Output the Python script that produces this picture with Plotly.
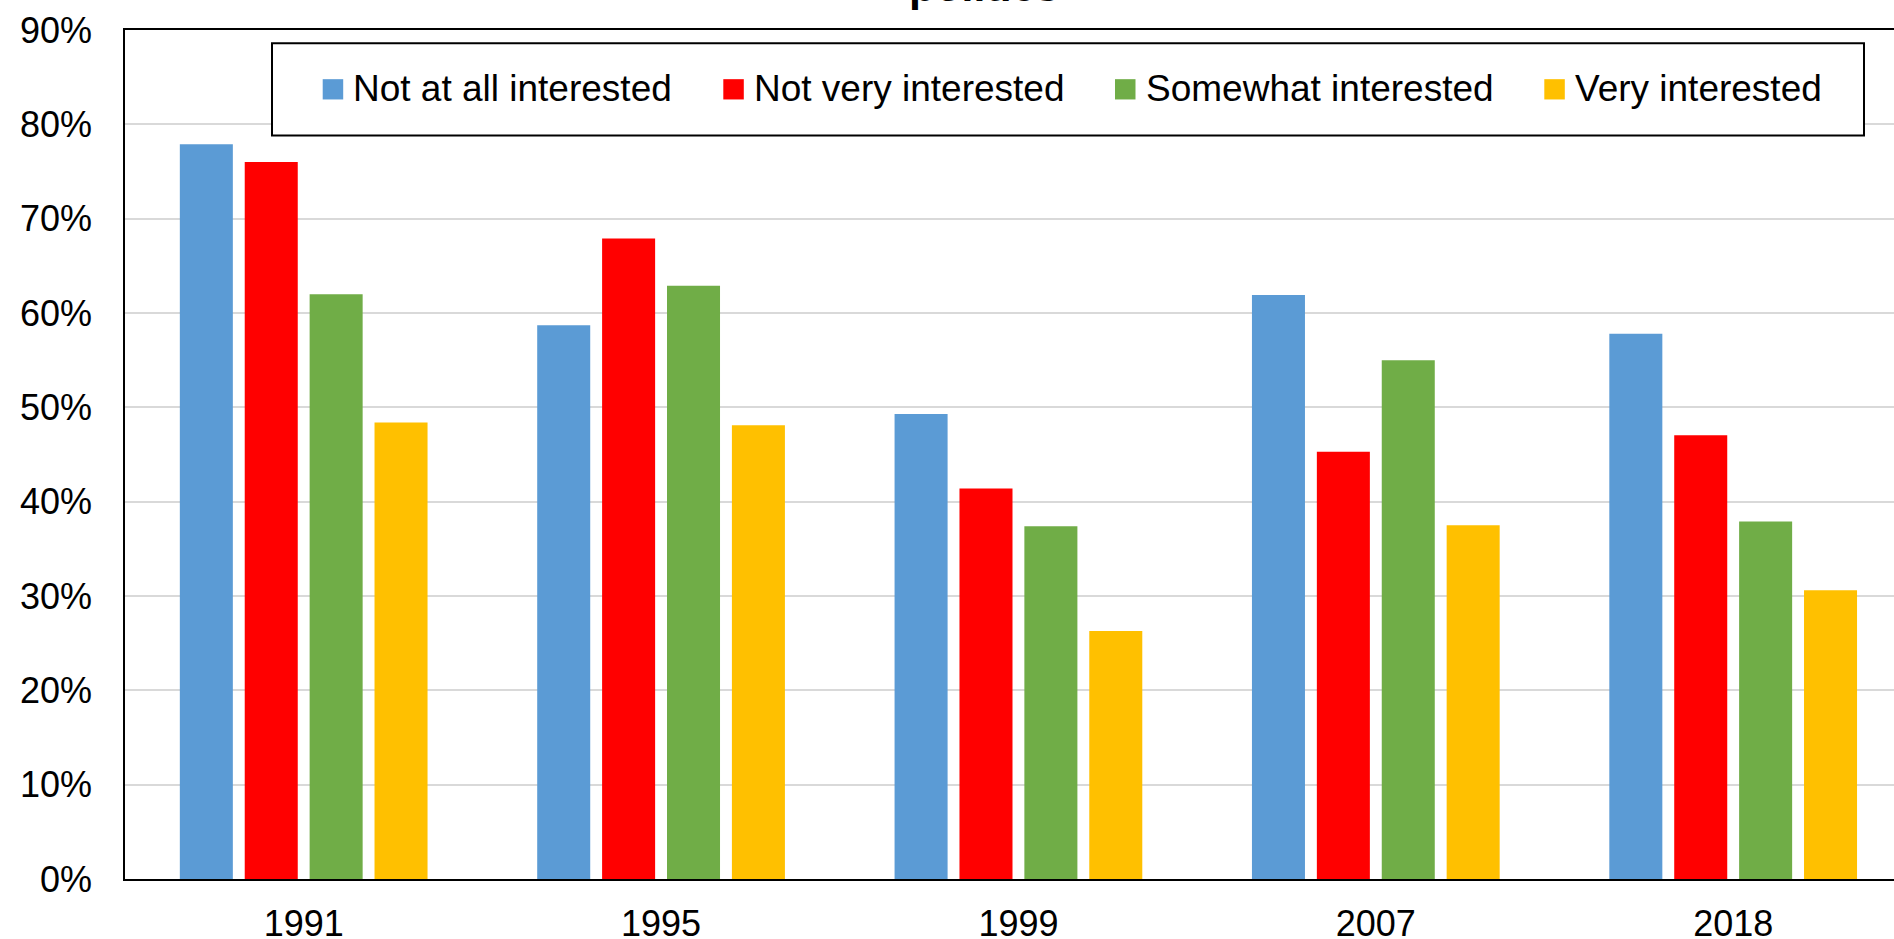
import plotly.graph_objects as go

years = ["1991", "1995", "1999", "2007", "2018"]
series_names = ["Not at all interested", "Not very interested", "Somewhat interested", "Very interested"]
not_at_all = [77.9, 58.7, 49.3, 61.9, 57.8]
not_very = [76.0, 67.9, 41.4, 45.3, 47.05]
somewhat = [62.0, 62.9, 37.4, 55.0, 37.9]
very = [48.4, 48.1, 26.3, 37.5, 30.6]
y_ticks = [0, 10, 20, 30, 40, 50, 60, 70, 80, 90]
y_tick_labels = ["0%", "10%", "20%", "30%", "40%", "50%", "60%", "70%", "80%", "90%"]
title_text = "politics"

colors = ["#5B9BD5", "#FF0000", "#70AD47", "#FFC000"]
values = [not_at_all, not_very, somewhat, very]

W, H = 1894, 939
L, R, T, B = 125, 1894, 29.5, 879
FONT = "Liberation Sans, Arial, sans-serif"


def px_x(p):
    return (p - L) / (R - L)


def px_y(p):
    return (B - p) / (B - T)


fig = go.Figure()
for name, vals, col in zip(series_names, values, colors):
    fig.add_trace(go.Bar(x=years, y=vals, name=name, marker=dict(color=col, line=dict(width=0)),
                         showlegend=False))

shapes = []
annotations = []
# legend box
shapes.append(dict(type="rect", xref="paper", yref="paper", x0=px_x(272), x1=px_x(1864),
                   y0=px_y(135), y1=px_y(42.7), line=dict(color="black", width=2),
                   fillcolor="white", layer="above"))
sq_left = [322.7, 723.3, 1115, 1544.3]
for name, col, sx in zip(series_names, colors, sq_left):
    shapes.append(dict(type="rect", xref="paper", yref="paper", x0=px_x(sx), x1=px_x(sx + 20.5),
                       y0=px_y(99), y1=px_y(78.7), line=dict(width=0), fillcolor=col, layer="above"))
    annotations.append(dict(xref="paper", yref="paper", x=px_x(sx + 28.5), y=px_y(88.5),
                            xanchor="left", yanchor="middle", text=name, showarrow=False,
                            font=dict(family=FONT, size=37, color="black")))

annotations.append(dict(xref="paper", yref="paper", x=px_x(984), y=px_y(11),
                        xanchor="center", yanchor="bottom", text="<b>" + title_text + "</b>",
                        showarrow=False, font=dict(family=FONT, size=43, color="black")))

fig.update_layout(
    width=W, height=H,
    margin=dict(l=L, r=W - R, t=T, b=H - B, pad=0, autoexpand=False),
    paper_bgcolor="white", plot_bgcolor="white",
    barmode="group", bargap=0.2736, bargroupgap=0.183,
    font=dict(family=FONT, size=36, color="black"),
    shapes=shapes, annotations=annotations,
    xaxis=dict(range=[-0.5, 4.45], showline=True, linecolor="black", linewidth=2, mirror=True,
               ticks="", showgrid=False, tickfont=dict(size=36), ticklabelstandoff=12,
               automargin=False, fixedrange=True),
    yaxis=dict(range=[0, 90], tickvals=y_ticks, ticktext=y_tick_labels, showline=True,
               linecolor="black", linewidth=1.5, showgrid=True, gridcolor="#d9d9d9", gridwidth=2,
               zeroline=False, ticks="", tickfont=dict(size=36), ticklabelstandoff=24,
               automargin=False, fixedrange=True),
)

fig.write_html("out.html", config={"displayModeBar": False},
               post_script="document.body.style.margin='0';document.body.style.overflow='hidden';")
